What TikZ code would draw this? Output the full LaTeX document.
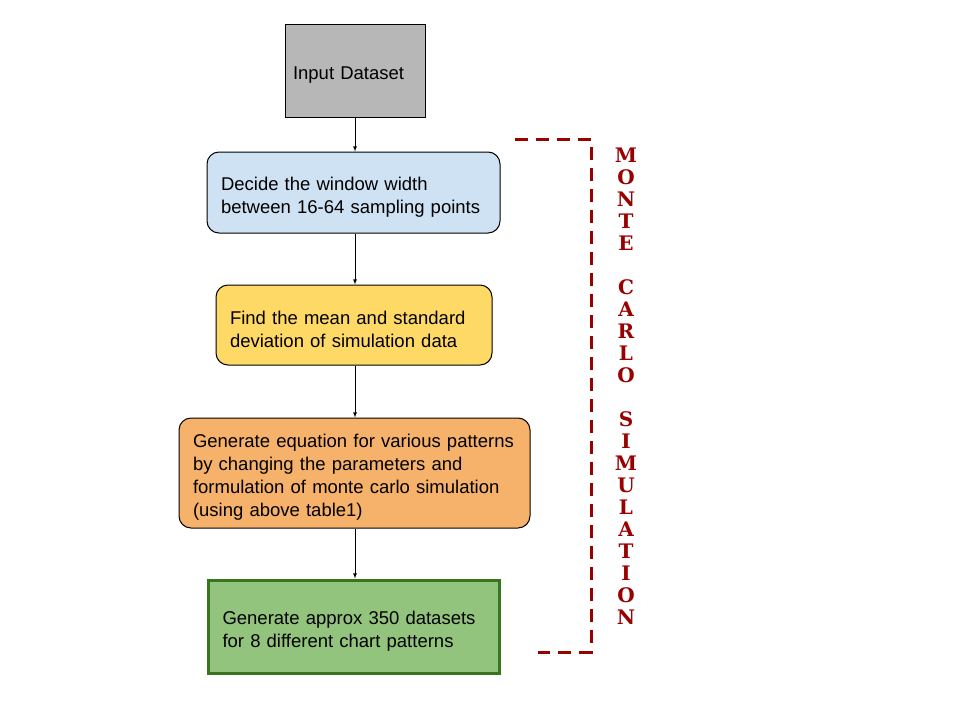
\documentclass[tikz,border=0pt]{standalone}
\usepackage{fontspec}
\setmainfont{Liberation Sans}
\newfontfamily\slabfont{DejaVu Serif}
\definecolor{inputgray}{HTML}{B7B7B7}
\definecolor{stepblue}{HTML}{CFE2F3}
\definecolor{stepyellow}{HTML}{FFD966}
\definecolor{steporange}{HTML}{F6B26B}
\definecolor{stepgreen}{HTML}{93C47D}
\definecolor{greenedge}{HTML}{38761D}
\definecolor{mcred}{HTML}{990000}
\begin{document}
\begin{tikzpicture}[x=1pt, y=-1pt, line width=1pt]
    \tikzstyle{marrs}=[line width=0.8pt,-latex]
    \tikzstyle{fbox}=[draw=black, text width=#1, align=left, inner xsep=14pt, inner ysep=0pt,
        font=\fontsize{18.5}{23}\selectfont, execute at begin node={\rule{0pt}{22pt}}]
    \tikzstyle{rbox}=[fbox=#1, rounded corners=12pt]

    \useasboundingbox (0,0) rectangle (960,720);

    \node[fbox=124pt, fill=inputgray, inner xsep=8pt, minimum height=93pt] (a) at (355,70.5) {Input Dataset};
    \node[rbox=265pt, fill=stepblue, minimum height=81pt] (b) at (353.5,192.5)
        {Decide the window width\\between 16-64 sampling points};
    \node[rbox=248pt, fill=stepyellow, minimum height=80pt] (c) at (354,325)
        {Find the mean and standard\\deviation of simulation data};
    \node[rbox=323pt, fill=steporange, minimum height=110pt] (d) at (354.5,473)
        {Generate equation for various patterns\\by changing the parameters and\\formulation of monte carlo simulation\\(using above table1)};
    \node[fbox=263pt, fill=stepgreen, draw=greenedge, line width=3pt, minimum height=93pt] (e) at (354,626.5)
        {Generate approx 350 datasets\\for 8 different chart patterns};

    \foreach \u/\v in {a/b, b/c, c/d, d/e} {
        \draw[marrs] (a.south |- \u.south) -- (a.south |- \v.north);
    }

    % monte carlo bracket
    \coordinate (mctop) at (515,139);
    \coordinate (mctr) at (591,139);
    \coordinate (mcbr) at (591,652);
    \coordinate (mcbot) at (538,652);
    \draw[mcred, line width=3pt, dash pattern=on 13pt off 8pt] (mctop) -- (mctr) -- (mcbr) -- (mcbot);

    \node[mcred, align=center, anchor=north, inner sep=0pt,
        font=\slabfont\bfseries\fontsize{20}{22}\selectfont] (mcsim) at (626,147)
        {M\\O\\N\\T\\E\\[22pt]C\\A\\R\\L\\O\\[22pt]S\\I\\M\\U\\L\\A\\T\\I\\O\\N};
\end{tikzpicture}
\end{document}
